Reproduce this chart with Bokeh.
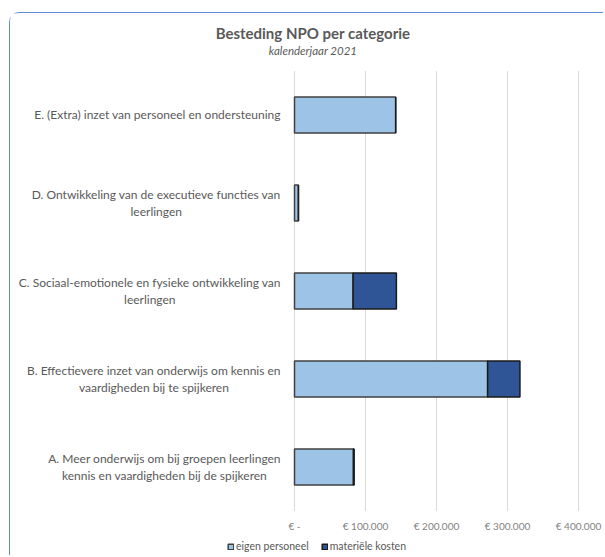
from bokeh.plotting import figure
from bokeh.models import Range1d, Legend, LegendItem, Label
from bokeh.core.properties import value
from bokeh.embed import file_html
from bokeh.resources import INLINE

# ---- data ----
categories = ["A", "B", "C", "D", "E"]
category_labels = [
    "A. Meer onderwijs om bij groepen leerlingen\nkennis en vaardigheden bij de spijkeren",
    "B. Effectievere inzet van onderwijs om kennis en\nvaardigheden bij te spijkeren",
    "C. Sociaal-emotionele en fysieke ontwikkeling van\nleerlingen",
    "D. Ontwikkeling van de executieve functies van\nleerlingen",
    "E. (Extra) inzet van personeel en ondersteuning",
]
eigen_personeel = [83000, 272000, 82500, 5500, 142500]
materiele_kosten = [1000, 45500, 61000, 0, 0]
series_names = ["eigen personeel", "materiële kosten"]
tick_values = [0, 100000, 200000, 300000, 400000]
tick_labels = ["€ -", "€ 100.000", "€ 200.000", "€ 300.000", "€ 400.000"]
title_text = "Besteding NPO per categorie"
subtitle_text = "kalenderjaar 2021"

FONT = "Lato"
GRAY = "#595959"
n = len(categories)

p = figure(
    width=594, height=543,
    y_range=Range1d(-0.517, n + 0.653),
    x_range=Range1d(-400000, 436600),
    output_backend="svg", toolbar_location=None, title=None,
    min_border=0,
    margin=(12, 0, 0, 9),
    styles={"border-top": "1.5px solid #5B8BD9", "border-left": "1.5px solid #5B8BD9",
            "border-top-left-radius": "10px"},
)
p.outline_line_color = None
p.background_fill_color = "white"
p.border_fill_color = "white"
p.grid.visible = False
p.axis.visible = False

# category band centres on the value scale
ypos = [i + 0.5 for i in range(n)]

# vertical gridlines at the tick values, spanning the category bands
p.segment(x0=tick_values, x1=tick_values, y0=[0] * len(tick_values),
          y1=[n] * len(tick_values), line_color="#D9D9D9", line_width=1)

data = dict(y=ypos, pers=eigen_personeel, mat=materiele_kosten, lab=category_labels)
rs = p.hbar_stack(["pers", "mat"], y="y", height=0.41, source=data,
                  fill_color=["#9DC3E6", "#2F5597"],
                  line_color=["#404040", "#1a1a1a"], line_width=1.5)

# category labels, right-anchored left of the value axis, lines centred
p.text(x=-19300, y="y", text="lab", source=data, anchor="center_right",
       text_align="center", text_baseline="middle", text_font=value(FONT),
       text_font_size="12px", text_color=GRAY, text_line_height=1.12)

# value axis tick labels
p.text(x=tick_values, y=[-0.17] * len(tick_values), text=tick_labels,
       text_align="center", text_baseline="middle", text_font=value(FONT),
       text_font_size="10px", text_color="#7F7F7F")

p.add_layout(Label(x=302.5, y=523.5, x_units="screen", y_units="screen", text=title_text,
                   text_align="center", text_baseline="middle", text_font=FONT,
                   text_font_size="15px", text_font_style="bold", text_color=GRAY))
p.add_layout(Label(x=302.5, y=506.5, x_units="screen", y_units="screen", text=subtitle_text,
                   text_align="center", text_baseline="middle", text_font=FONT,
                   text_font_size="11.5px", text_font_style="italic", text_color=GRAY))

legend = Legend(items=[LegendItem(label=s, renderers=[r]) for s, r in zip(series_names, rs)],
                location=(217, 4), orientation="horizontal",
                glyph_width=7, glyph_height=7, label_standoff=2, spacing=12,
                padding=0, margin=0, border_line_color=None, background_fill_alpha=0,
                label_text_font=FONT, label_text_font_size="10.5px", label_text_color=GRAY,
                label_height=10)
p.add_layout(legend, "center")

open("out.html", "w").write(file_html(p, INLINE))
